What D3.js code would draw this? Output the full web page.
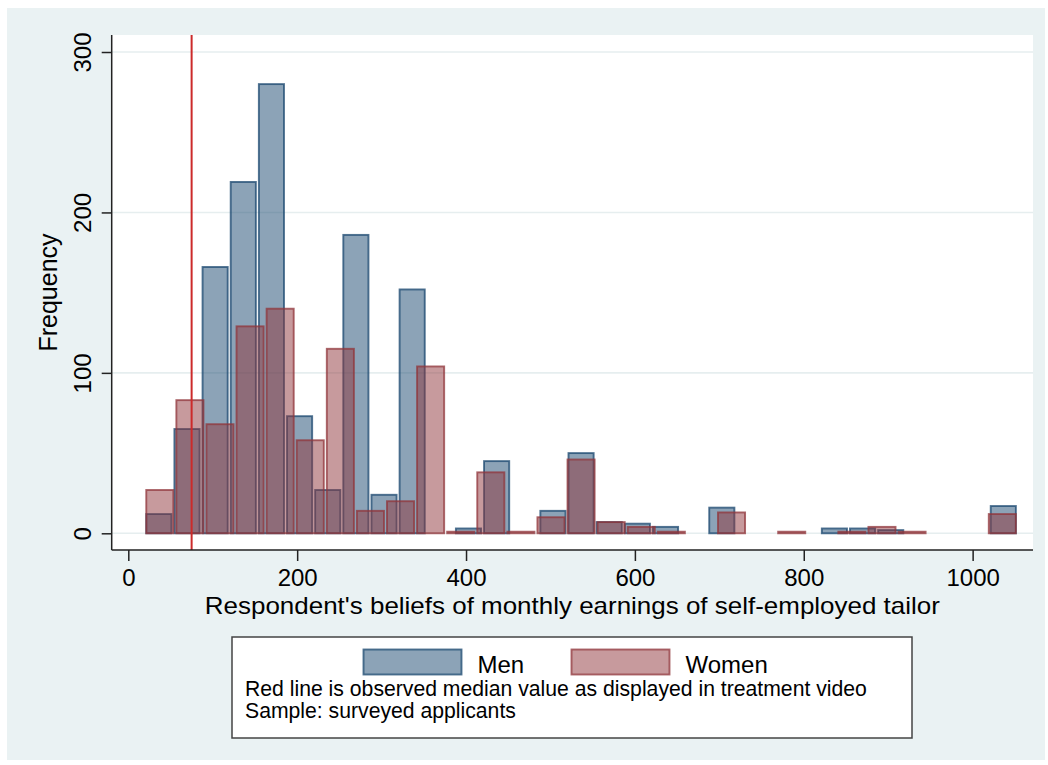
<!DOCTYPE html>
<html>
<head>
<meta charset="utf-8">
<script src="https://cdn.jsdelivr.net/npm/d3@7"></script>
<style>
  html, body { margin: 0; padding: 0; background: #ffffff; }
  svg text { font-family: "Liberation Sans", Arial, Helvetica, sans-serif; fill: #000; }
</style>
</head>
<body>
<svg id="chart" width="1048" height="765"></svg>
<script>
// ---- data ----
const binStart = 19.5;
const binEnd = 1053;
const menCounts = [12,65,166,219,280,73,27,186,24,152,0,3,45,0,14,50,7,6,4,0,16,0,0,0,3,3,2,0,0,0,17];
const womenCounts = [27,83,68,129,140,58,115,14,20,104,1,38,1,10,46,7,4,1,0,13,0,1,0,1,4,1,0,0,12];
const xTicks = [0, 200, 400, 600, 800, 1000];
const yTicks = [0, 100, 200, 300];
const medianValue = 75;
const seriesNames = ["Men", "Women"];
const xTitle = "Respondent's beliefs of monthly earnings of self-employed tailor";
const yTitle = "Frequency";
const noteLines = ["Red line is observed median value as displayed in treatment video", "Sample: surveyed applicants"];

// ---- layout ----
const svg = d3.select("#chart");
const plot = { left: 111.7, right: 1033, top: 35, bottom: 550 };
const menColor = "#1a476f", womenColor = "#90353b";

svg.append("rect").attr("x", 7).attr("y", 8).attr("width", 1038).attr("height", 752).attr("fill", "#eaf2f3");
svg.append("rect").attr("x", plot.left).attr("y", plot.top)
  .attr("width", plot.right - plot.left).attr("height", plot.bottom - plot.top).attr("fill", "#ffffff");

const x = d3.scaleLinear().domain([-19.66, 1071.5]).range([plot.left, plot.right]);
const y = d3.scaleLinear().domain([-10.41, 310.6]).range([plot.bottom, plot.top]);

// grid
svg.append("g").selectAll("line").data(yTicks).join("line")
  .attr("x1", plot.left).attr("x2", plot.right)
  .attr("y1", d => y(d)).attr("y2", d => y(d))
  .attr("stroke", "#e6eeef").attr("stroke-width", 1.6);

function bins(counts) {
  const w = (binEnd - binStart) / counts.length;
  return counts.map((c, i) => ({ x0: binStart + i * w, x1: binStart + (i + 1) * w, c }));
}

function drawBars(counts, color, fillOp, strokeOp) {
  svg.append("g").selectAll("rect").data(bins(counts).filter(d => d.c > 0)).join("rect")
    .attr("x", d => x(d.x0) + 1.5)
    .attr("width", d => x(d.x1) - x(d.x0) - 3)
    .attr("y", d => y(d.c))
    .attr("height", d => y(0) - y(d.c))
    .attr("fill", color).attr("fill-opacity", fillOp)
    .attr("stroke", color).attr("stroke-opacity", strokeOp).attr("stroke-width", 1.9);
}
drawBars(menCounts, menColor, 0.5, 0.75);
drawBars(womenCounts, womenColor, 0.5, 0.75);

// median line
svg.append("line").attr("x1", x(medianValue)).attr("x2", x(medianValue))
  .attr("y1", plot.top).attr("y2", plot.bottom)
  .attr("stroke", "#cc2a2a").attr("stroke-width", 2);

// axes
const xAxis = svg.append("g").attr("transform", `translate(0,${plot.bottom})`)
  .call(d3.axisBottom(x).tickValues(xTicks).tickFormat(d3.format("d")).tickSize(11).tickPadding(8).tickSizeOuter(0));
const yAxis = svg.append("g").attr("transform", `translate(${plot.left},0)`)
  .call(d3.axisLeft(y).tickValues(yTicks).tickFormat(d3.format("d")).tickSize(10).tickPadding(12).tickSizeOuter(0));
[xAxis, yAxis].forEach(a => {
  a.select(".domain").attr("stroke", "#222").attr("stroke-width", 1.5);
  a.selectAll(".tick line").attr("stroke", "#222").attr("stroke-width", 1.5);
  a.selectAll("text").attr("font-size", 24).attr("fill", "#000")
    .style("font-family", '"Liberation Sans", Arial, sans-serif');
});
yAxis.select(".domain").attr("d", `M0,${plot.top}V${plot.bottom}`);
xAxis.select(".domain").attr("d", `M${plot.left},0H${plot.right}`);
yAxis.selectAll(".tick text")
  .attr("text-anchor", "middle").attr("dy", 0)
  .each(function() {
    d3.select(this).attr("transform", `translate(-21,0) rotate(-90)`).attr("x", 0).attr("y", 0);
  });

// titles
svg.append("text").attr("x", (plot.left + plot.right) / 2).attr("y", 613.5)
  .attr("text-anchor", "middle").attr("font-size", 24)
  .attr("textLength", 735).attr("lengthAdjust", "spacingAndGlyphs").text(xTitle);
svg.append("text").attr("transform", `translate(57,${(plot.top + plot.bottom) / 2}) rotate(-90)`)
  .attr("text-anchor", "middle").attr("font-size", 25).text(yTitle);

// legend
const lg = svg.append("g");
lg.append("rect").attr("x", 232).attr("y", 637).attr("width", 680).attr("height", 101)
  .attr("fill", "#fff").attr("stroke", "#444").attr("stroke-width", 1.5);
const keyX = [363.5, 571.5];
const keyColors = [menColor, womenColor];
seriesNames.forEach((n, i) => {
  lg.append("rect").attr("x", keyX[i]).attr("y", 649.5).attr("width", 98).attr("height", 25)
    .attr("fill", keyColors[i]).attr("fill-opacity", 0.5)
    .attr("stroke", keyColors[i]).attr("stroke-opacity", 0.75).attr("stroke-width", 1.9);
  lg.append("text").attr("x", keyX[i] + 114).attr("y", 673).attr("font-size", 24).text(n);
});
noteLines.forEach((t, i) => {
  lg.append("text").attr("x", 245).attr("y", 696 + i * 22).attr("font-size", 21.2).text(t);
});
</script>
</body>
</html>
